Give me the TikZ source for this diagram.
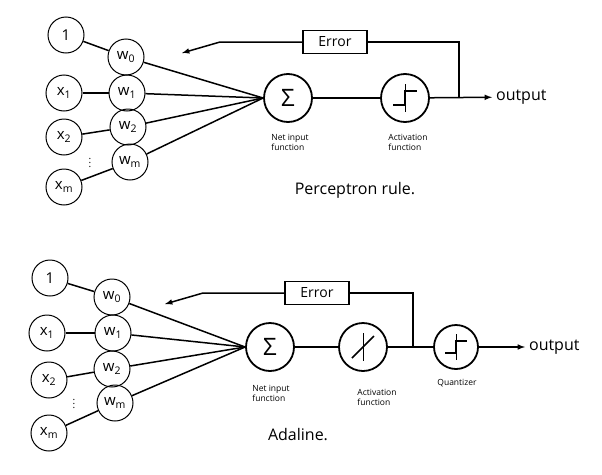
\documentclass[tikz,border=0pt]{standalone}
\usepackage{fontspec}
\setmainfont{Open Sans}
\usetikzlibrary{positioning}
\usetikzlibrary{arrows}

\begin{document}
\begin{tikzpicture}[>=latex,x=1pt,y=-1pt,line width=1.5pt,
	unit/.style={circle,draw=black,line width=1pt,inner sep=0pt,minimum size=36pt,font=\fontsize{15}{15}\selectfont},
	fn/.style={circle,draw=black,line width=1.8pt,inner sep=0pt,minimum size=48pt,font=\fontsize{24}{24}\selectfont},
	errbox/.style={draw=black,minimum width=64pt,minimum height=23pt,font=\fontsize{14}{14}\selectfont},
	small/.style={align=left,font=\fontsize{8.5}{10}\selectfont},
	big/.style={font=\fontsize{16}{16}\selectfont},
	dots/.style={inner sep=0pt,font=\fontsize{10}{10}\selectfont}]
	\useasboundingbox (0,0) rectangle (602,474);

	% Perceptron rule
	\node [unit] at (66,35) (p_one) {1};
	\node [unit] at (126,57) (p_w0) {w\textsubscript{0}};
	\node [unit] at (64,93) (p_x1) {x\textsubscript{1}};
	\node [unit] at (127,93) (p_w1) {w\textsubscript{1}};
	\node [unit] at (64,137) (p_x2) {x\textsubscript{2}};
	\node [unit] at (128,127) (p_w2) {w\textsubscript{2}};
	\node [unit] at (130,162) (p_wm) {w\textsubscript{m}};
	\node [unit] at (64,187) (p_xm) {x\textsubscript{m}};
	\node [dots] at (90,160) (p_dots) {$\vdots$};
	\node [fn] at (288,98) (p_sum) {Σ};
	\node [fn] at (405,98) (p_act) {};
	\node [errbox] at (335,42) (p_err) {Error};
	\coordinate (p_join) at (459,98);
	\coordinate (p_back) at (220,42);
	\coordinate (p_tip) at (182,53);
	\node [big,anchor=west] at (492,97) (p_out) {output};
	\node [small] at (290,142) (p_net_txt) {Net input\\function};
	\node [small] at (408,142) (p_act_txt) {Activation\\function};
	\node [big] at (355,190) (p_title) {Perceptron rule.};

	\draw (p_one) -- (p_w0);
	\draw (p_x1) -- (p_w1);
	\draw (p_x2) -- (p_w2);
	\draw (p_xm) -- (p_wm);
	\foreach \w in {p_w0,p_w1,p_w2,p_wm}
		\draw (\w) -- (p_sum.west);
	\draw (p_sum) -- (p_act);
	\draw[->] (p_act) -- (p_out);
	\draw (p_join) |- (p_err);
	\draw[->] (p_err) -- (p_back) -- (p_tip);
	\draw[line width=1pt] (p_act.center) ++(0,-14) -- ++(0,28);
	\draw (p_act.center) ++(-12,7) -- ++(12,0) -- ++(0,-14) -- ++(12,0);

	% Adaline
	\node [unit] at (50,278) (a_one) {1};
	\node [unit] at (112,297) (a_w0) {w\textsubscript{0}};
	\node [unit] at (47,333) (a_x1) {x\textsubscript{1}};
	\node [unit] at (113,333) (a_w1) {w\textsubscript{1}};
	\node [unit] at (49,380) (a_x2) {x\textsubscript{2}};
	\node [unit] at (112,369) (a_w2) {w\textsubscript{2}};
	\node [unit] at (115,403) (a_wm) {w\textsubscript{m}};
	\node [unit] at (49,433) (a_xm) {x\textsubscript{m}};
	\node [dots] at (74,401) (a_dots) {$\vdots$};
	\node [fn] at (270,347) (a_sum) {Σ};
	\node [fn] at (363,347) (a_act) {};
	\node [fn,minimum size=44pt] at (456,347) (a_quant) {};
	\node [errbox] at (317,293) (a_err) {Error};
	\coordinate (a_join) at (413,347);
	\coordinate (a_back) at (203,293);
	\coordinate (a_tip) at (165,304);
	\node [big,anchor=west] at (525,347) (a_out) {output};
	\node [small] at (271,393) (a_net_txt) {Net input\\function};
	\node [small] at (377,397) (a_act_txt) {Activation\\function};
	\node [small] at (457,383) (a_quant_txt) {Quantizer};
	\node [big] at (298,435) (a_title) {Adaline.};

	\draw (a_one) -- (a_w0);
	\draw (a_x1) -- (a_w1);
	\draw (a_x2) -- (a_w2);
	\draw (a_xm) -- (a_wm);
	\foreach \w in {a_w0,a_w1,a_w2,a_wm}
		\draw (\w) -- (a_sum.west);
	\draw (a_sum) -- (a_act);
	\draw (a_act) -- (a_quant);
	\draw[->] (a_quant) -- (a_out);
	\draw (a_join) |- (a_err);
	\draw[->] (a_err) -- (a_back) -- (a_tip);
	\draw[line width=1pt] (a_act.center) ++(0,-14) -- ++(0,28);
	\draw (a_act.center) ++(-11,11) -- ++(22,-22);
	\draw[line width=1pt] (a_quant.center) ++(0,-13) -- ++(0,26);
	\draw (a_quant.center) ++(-11,6) -- ++(11,0) -- ++(0,-12) -- ++(11,0);
\end{tikzpicture}
\end{document}
